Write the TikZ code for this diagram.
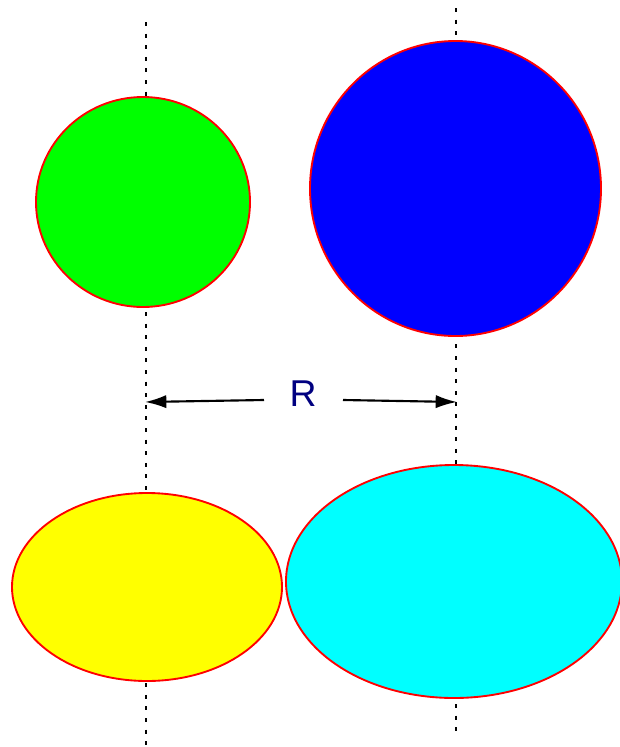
\documentclass[tikz,border=0pt]{standalone}
\usepackage{fontspec}
\setmainfont{Liberation Sans}
\usetikzlibrary{shapes.geometric,arrows.meta}
\definecolor{navyR}{RGB}{0,0,128}
\definecolor{fgreen}{RGB}{0,255,0}
\definecolor{fblue}{RGB}{0,0,255}
\definecolor{fyellow}{RGB}{255,255,0}
\definecolor{fcyan}{RGB}{0,255,255}
\definecolor{fred}{RGB}{255,0,0}
\begin{document}
\begin{tikzpicture}[x=0.75pt,y=-0.75pt,
  blob/.style={ellipse,draw=fred,line width=1.4pt,inner sep=0pt,outer sep=0pt},
  axisline/.style={line width=1.5pt,dash pattern=on 3pt off 5.7pt},
  dimarrow/.style={line width=1.6pt,-{Latex[length=16pt,width=10pt]}}]
\useasboundingbox (0,0) rectangle (620,747);
% axes
\coordinate (lt) at (146,22);
\coordinate (lb) at (146,747);
\coordinate (rt) at (456,8);
\coordinate (rb) at (456,732);
\draw[axisline] (lt) -- (lb);
\draw[axisline] (rt) -- (rb);
% shapes
\node[blob,fill=fgreen,minimum width=160.5pt,minimum height=157.5pt] (green) at (143,202) {};
\node[blob,fill=fblue,minimum width=218.25pt,minimum height=221.25pt] (blue) at (455.5,188.5) {};
\node[blob,fill=fyellow,minimum width=202.5pt,minimum height=141pt] (yellow) at (147,587) {};
\node[blob,fill=fcyan,minimum width=252pt,minimum height=174.75pt] (cyan) at (454,581.5) {};
% dimension
\node[text=navyR,font=\fontsize{28}{30}\selectfont,inner sep=0pt] (R) at (303,394) {R};
\coordinate (al) at (264,400);
\coordinate (ar) at (343,400);
\coordinate (tl) at (145,402);
\coordinate (tr) at (457,402);
\draw[dimarrow] (al) -- (tl);
\draw[dimarrow] (ar) -- (tr);
\end{tikzpicture}
\end{document}
